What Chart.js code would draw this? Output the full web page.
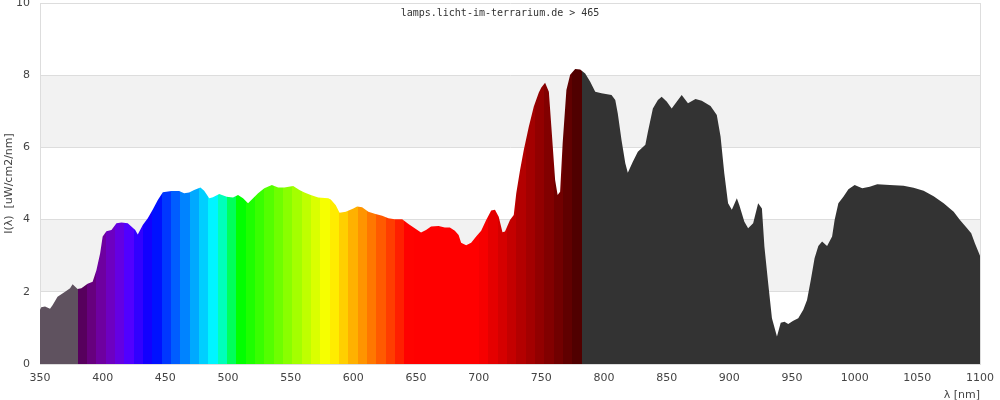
<!DOCTYPE html>
<html lang="de">
<head>
    <meta charset="UTF-8">
    <title>Spektrum</title>
    <script src="https://cdn.jsdelivr.net/npm/chart.js"></script>
    <style>
        body { margin: 0; background: #fff; }
        #box { width: 1000px; height: 400px; }
    </style>
</head>
<body>
    <div id="box"><canvas id="spectrumChart"></canvas></div>

    <script>
        const wavelengths = [
            350, 351, 354, 358, 360, 364, 370, 374, 376, 380, 383, 388, 392, 395, 398,
            400, 403, 407, 411, 415, 420, 426, 428, 432, 436, 440, 444, 448, 455, 461,
            465, 469, 473, 478, 481, 485, 488, 493, 499, 504, 508, 512, 516, 520, 524,
            529, 535, 540, 545, 552, 557, 561, 566, 572, 580, 582, 586, 589, 594, 600,
            603, 607, 612, 617, 623, 628, 633, 639, 644, 649, 654, 658, 662, 668, 673,
            677, 681, 684, 686, 690, 694, 698, 702, 706, 710, 713, 716, 719, 721, 725,
            728, 730, 733, 736, 740, 744, 748, 750, 753, 756, 758, 761, 763, 765, 767,
            770, 773, 777, 781, 785, 789, 793, 798, 806, 809, 811, 814, 817, 819, 823,
            827, 833, 835, 839, 843, 846, 850, 854, 862, 867, 873, 878, 885, 890, 893,
            896, 899, 902, 906, 908, 912, 915, 919, 923, 926, 928, 931, 934, 938, 941,
            944, 947, 951, 955, 959, 962, 965, 968, 971, 974, 978, 982, 984, 987, 991,
            995, 1000, 1006, 1012, 1018, 1028, 1039, 1047, 1055, 1063, 1071, 1079, 1084, 1089, 1093,
            1096, 1100
        ];
        const intensity = [
            1.50, 1.57, 1.59, 1.53, 1.63, 1.86, 2.00, 2.10, 2.21, 2.08, 2.10, 2.22, 2.28, 2.60, 3.07,
            3.53, 3.68, 3.71, 3.90, 3.92, 3.90, 3.71, 3.59, 3.85, 4.04, 4.28, 4.54, 4.76, 4.79, 4.79,
            4.73, 4.75, 4.82, 4.89, 4.80, 4.59, 4.62, 4.71, 4.63, 4.61, 4.68, 4.59, 4.45, 4.59, 4.73,
            4.87, 4.96, 4.89, 4.89, 4.93, 4.82, 4.75, 4.68, 4.61, 4.59, 4.56, 4.40, 4.19, 4.22, 4.31,
            4.36, 4.34, 4.22, 4.16, 4.11, 4.04, 4.01, 4.01, 3.88, 3.76, 3.64, 3.71, 3.81, 3.82, 3.78,
            3.78, 3.69, 3.57, 3.36, 3.29, 3.36, 3.53, 3.69, 3.99, 4.25, 4.27, 4.08, 3.65, 3.67, 3.99,
            4.13, 4.73, 5.37, 5.93, 6.57, 7.13, 7.52, 7.66, 7.79, 7.54, 6.57, 5.10, 4.68, 4.77, 6.11,
            7.59, 8.01, 8.17, 8.16, 8.05, 7.82, 7.54, 7.50, 7.45, 7.31, 6.94, 6.20, 5.56, 5.30, 5.60,
            5.88, 6.07, 6.43, 7.08, 7.31, 7.40, 7.27, 7.08, 7.45, 7.22, 7.34, 7.29, 7.15, 6.90, 6.30,
            5.28, 4.45, 4.27, 4.59, 4.40, 3.94, 3.76, 3.90, 4.45, 4.31, 3.25, 2.24, 1.27, 0.76, 1.14,
            1.17, 1.11, 1.20, 1.27, 1.50, 1.77, 2.33, 2.93, 3.27, 3.39, 3.27, 3.53, 3.99, 4.45, 4.63,
            4.84, 4.96, 4.87, 4.91, 4.98, 4.96, 4.94, 4.88, 4.80, 4.65, 4.45, 4.22, 3.99, 3.79, 3.62,
            3.34, 3.00
        ];

        const BAND_START = 380;
        const BAND_WIDTH = 7.45;
        const BAND_COUNT = 54;
        const UV_COLOR = '#5f525f';
        const IR_COLOR = '#333333';

        // Wellenlaenge -> Farbe (nach Bruton)
        function waveColor(w) {
            let r = 0, g = 0, b = 0;
            if (w < 440) { r = (440 - w) / 60; b = 1; }
            else if (w < 490) { g = (w - 440) / 50; b = 1; }
            else if (w < 510) { g = 1; b = (510 - w) / 20; }
            else if (w < 580) { r = (w - 510) / 70; g = 1; }
            else if (w < 645) { r = 1; g = (645 - w) / 65; }
            else { r = 1; }
            let f = 1;
            if (w < 420) f = 0.3 + 0.7 * (w - 380) / 40;
            else if (w > 700) f = 0.3 + 0.7 * (780 - w) / 80;
            f = Math.max(f, 0.3);
            const c = v => Math.round(255 * v * f);
            return 'rgb(' + c(r) + ',' + c(g) + ',' + c(b) + ')';
        }

        function spectrumFill(context) {
            const chart = context.chart;
            const area = chart.chartArea;
            if (!area) return IR_COLOR;
            const xs = chart.scales.x;
            const pos = w => Math.min(1, Math.max(0, (xs.getPixelForValue(w) - area.left) / (area.right - area.left)));
            const edges = [];
            for (let k = 0; k <= BAND_COUNT; k++) edges.push(pos(BAND_START + k * BAND_WIDTH));
            const grad = chart.ctx.createLinearGradient(area.left, 0, area.right, 0);
            grad.addColorStop(0, UV_COLOR);
            grad.addColorStop(edges[0], UV_COLOR);
            for (let k = 0; k < BAND_COUNT; k++) {
                const col = waveColor(BAND_START + (k + 0.5) * BAND_WIDTH);
                grad.addColorStop(edges[k], col);
                grad.addColorStop(edges[k + 1], col);
            }
            grad.addColorStop(edges[BAND_COUNT], IR_COLOR);
            grad.addColorStop(1, IR_COLOR);
            return grad;
        }

        const bandsPlugin = {
            id: 'bands',
            beforeDraw(chart) {
                const { ctx, chartArea: a, scales: { y } } = chart;
                ctx.save();
                ctx.fillStyle = '#f2f2f2';
                [[2, 4], [6, 8]].forEach(([lo, hi]) => {
                    const top = y.getPixelForValue(hi);
                    ctx.fillRect(a.left, top, a.right - a.left, y.getPixelForValue(lo) - top);
                });
                ctx.restore();
            },
            afterDraw(chart) {
                const { ctx, chartArea: a } = chart;
                ctx.save();
                ctx.strokeStyle = '#dddddd';
                ctx.lineWidth = 1;
                ctx.beginPath();
                ctx.moveTo(a.right + 0.5, a.top);
                ctx.lineTo(a.right + 0.5, a.bottom);
                ctx.stroke();
                ctx.font = '10px "DejaVu Sans Mono"';
                ctx.fillStyle = '#333';
                ctx.textAlign = 'center';
                ctx.textBaseline = 'middle';
                ctx.fillText('lamps.licht-im-terrarium.de > 465', 500, 13);
                ctx.restore();
            }
        };

        document.addEventListener('DOMContentLoaded', function () {
            const font = { family: '"DejaVu Sans"', size: 11 };
            const ctx = document.getElementById('spectrumChart').getContext('2d');
            new Chart(ctx, {
                type: 'line',
                data: {
                    datasets: [{
                        data: wavelengths.map((w, i) => ({ x: w, y: intensity[i] })),
                        backgroundColor: spectrumFill,
                        borderWidth: 0,
                        pointRadius: 0,
                        tension: 0,
                        fill: 'origin'
                    }]
                },
                options: {
                    responsive: true,
                    maintainAspectRatio: false,
                    animation: false,
                    layout: { padding: { top: 3, right: 20, left: 0, bottom: 0 } },
                    plugins: { legend: { display: false }, tooltip: { enabled: false } },
                    scales: {
                        x: {
                            type: 'linear', min: 350, max: 1100,
                            ticks: { stepSize: 50, padding: 8, color: '#444', font: font, maxRotation: 0, callback: v => String(v) },
                            grid: { display: false, drawTicks: false },
                            border: { display: true, color: '#dddddd' },
                            title: { display: true, text: 'λ [nm]', align: 'end', color: '#444', font: font, padding: { top: 0, bottom: -2 } },
                            afterFit: s => { s.height = 36; s.paddingLeft = 0; s.paddingRight = 0; }
                        },
                        y: {
                            min: 0, max: 10,
                            ticks: { stepSize: 2, padding: 10, color: '#444', font: font },
                            grid: { color: '#dddddd', drawTicks: false },
                            border: { display: true, color: '#dddddd' },
                            title: { display: true, text: 'I(λ)  [uW/cm2/nm]', color: '#444', font: font, padding: { top: 3, bottom: 0 } },
                            afterFit: s => { s.width = 40; s.paddingTop = 0; s.paddingBottom = 0; }
                        }
                    }
                },
                plugins: [bandsPlugin]
            });
        });
    </script>
</body>
</html>
